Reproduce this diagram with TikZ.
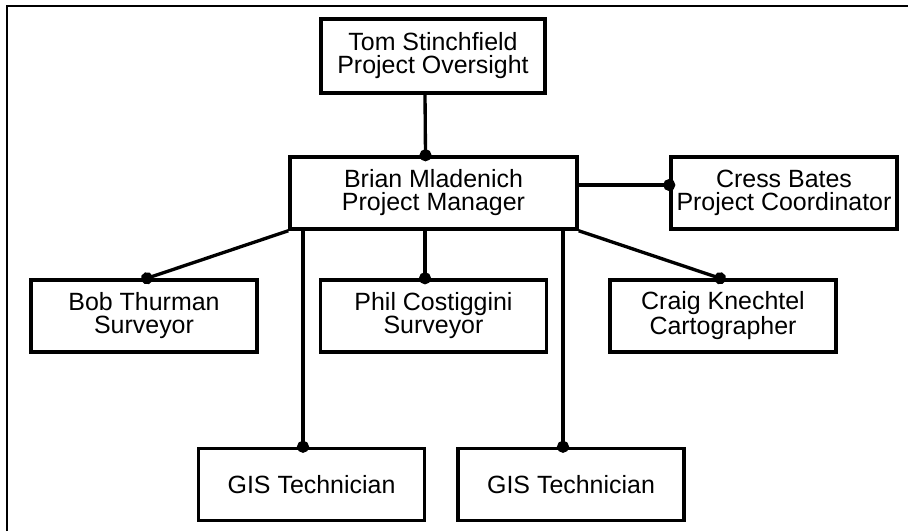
\documentclass[tikz,border=0pt]{standalone}
\usepackage{fontspec}
\setmainfont{Liberation Sans}
\usetikzlibrary{arrows.meta}

\begin{document}
\begin{tikzpicture}[
    x=0.02cm, y=-0.02cm,
    font=\fontsize{14.2}{13.1}\selectfont,
    person/.style={rectangle, draw=black, line width=2pt, fill=white, minimum width=4.52cm, minimum height=1.44cm, align=center, inner sep=0pt},
    boss/.style={person, minimum width=5.74cm},
    link/.style={line width=1.9pt, -{Circle[length=0.24cm]}, shorten >=-0.12cm}
]

\useasboundingbox (0,0) rectangle (908,531);
\draw[line width=1.3pt] (7,531) -- (7,6) -- (908,6);

\node[person, minimum width=4.48cm, minimum height=1.48cm] (tom) at (433,56) {Tom Stinchfield\\Project Oversight};
\node[boss] (brian) at (433.5,193) {Brian Mladenich\\Project Manager};
\node[person] (cress) at (784,193) {Cress Bates\\Project Coordinator};

\node[person] (bob) at (144,316) {Bob Thurman\\Surveyor};
\node[person] (phil) at (433.5,316) {Phil Costiggini\\Surveyor};
\node[person] (craig) at (723,316) {Craig Knechtel\\Cartographer};

\node[person] (gisa) at (311.5,484.5) {GIS Technician};
\node[person] (gisb) at (571,484.5) {GIS Technician};

\draw[link] ([xshift=-0.16cm]tom.south) -- ([xshift=-0.16cm]brian.north);
\draw[link] ([yshift=0.16cm]brian.east) -- ([yshift=0.16cm]cress.west);

\draw[link] (brian.south west) -- ([xshift=0.06cm]bob.north);
\draw[link] ([xshift=-0.17cm]gisa.north |- brian.south) -- ([xshift=-0.17cm]gisa.north);
\draw[link] ([xshift=-0.17cm]brian.south) -- ([xshift=-0.17cm]phil.north);
\draw[link] ([xshift=-0.16cm]gisb.north |- brian.south) -- ([xshift=-0.16cm]gisb.north);
\draw[link] (brian.south east) -- ([xshift=-0.06cm]craig.north);

\end{tikzpicture}
\end{document}
